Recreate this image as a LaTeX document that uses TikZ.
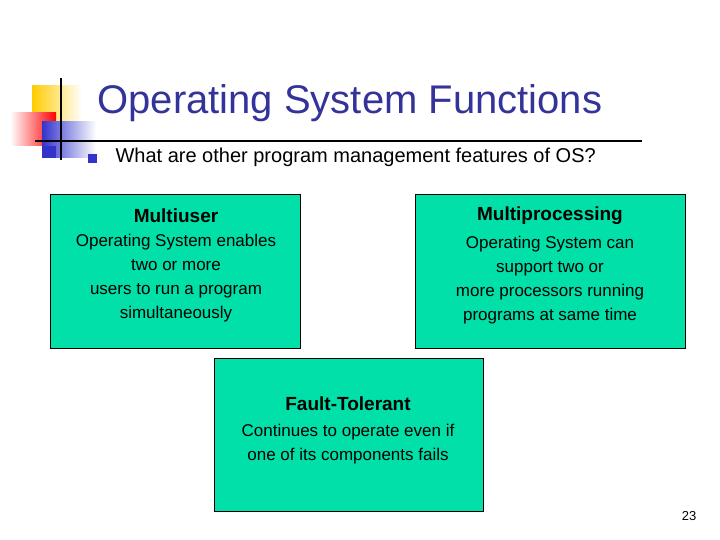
\documentclass[tikz,border=0pt]{standalone}
\usepackage{fontspec}
\setmainfont{Liberation Sans}
\usepackage{tikz}
\usetikzlibrary{positioning}
\definecolor{boxgreen}{RGB}{0,224,168}
\definecolor{titleblue}{RGB}{51,51,153}
\definecolor{logoyellow}{RGB}{255,204,0}
\definecolor{logored}{RGB}{255,0,0}
\definecolor{logoblue}{RGB}{51,51,204}
\tikzset{
  fbox/.style={draw=black, fill=boxgreen, line width=0.6pt, anchor=north west},
  fhead/.style={font=\fontsize{19}{22}\selectfont\bfseries},
  fbody/.style={font=\fontsize{17}{24}\selectfont, align=center}
}
\begin{document}
\begin{tikzpicture}[x=1pt,y=-1pt]
\useasboundingbox (0,0) rectangle (720,540);
% logo
\shade[left color=logoyellow, right color=white] (32,86) rectangle (82,122);
\shade[left color=white, right color=logored] (10,113) rectangle (56,146);
\shade[left color=logoblue, right color=white] (42,122) rectangle (96,158);
\fill[logoblue] (42,146) rectangle (56,158);
\draw[line width=1.5pt] (61,78) -- (61,160);
\draw[line width=1.5pt] (35,141) -- (642,141);
\fill[logoblue] (88,154) rectangle (97,163);
% title
\node[anchor=west, text=titleblue, font=\fontsize{40}{44}\selectfont] (title) at (94,103) {Operating System Functions};
\node[anchor=west, font=\fontsize{20}{24}\selectfont] (question) at (112,157) {What are other program management features of OS?};
% boxes
\draw[fbox] (50,194) rectangle (300,348);
\draw[fbox] (415,194) rectangle (685,348);
\draw[fbox] (214,358) rectangle (483,511);
\node[fhead] (multiuser) at (176,216) {Multiuser};
\node[fhead] (multiproc) at (550,216) {Multiprocessing};
\node[fhead] (fault) at (348,404) {Fault-Tolerant};
\node[fbody, below=4pt of multiuser] (muText) {Operating System enables\\two or more\\users to run a program\\simultaneously};
\node[fbody, below=4pt of multiproc] (mpText) {Operating System can\\support two or\\more processors running\\programs at same time};
\node[fbody, below=6pt of fault] (ftText) {Continues to operate even if\\one of its components fails};
\node[font=\fontsize{13}{15}\selectfont] (page) at (689,516) {23};
\end{tikzpicture}
\end{document}
